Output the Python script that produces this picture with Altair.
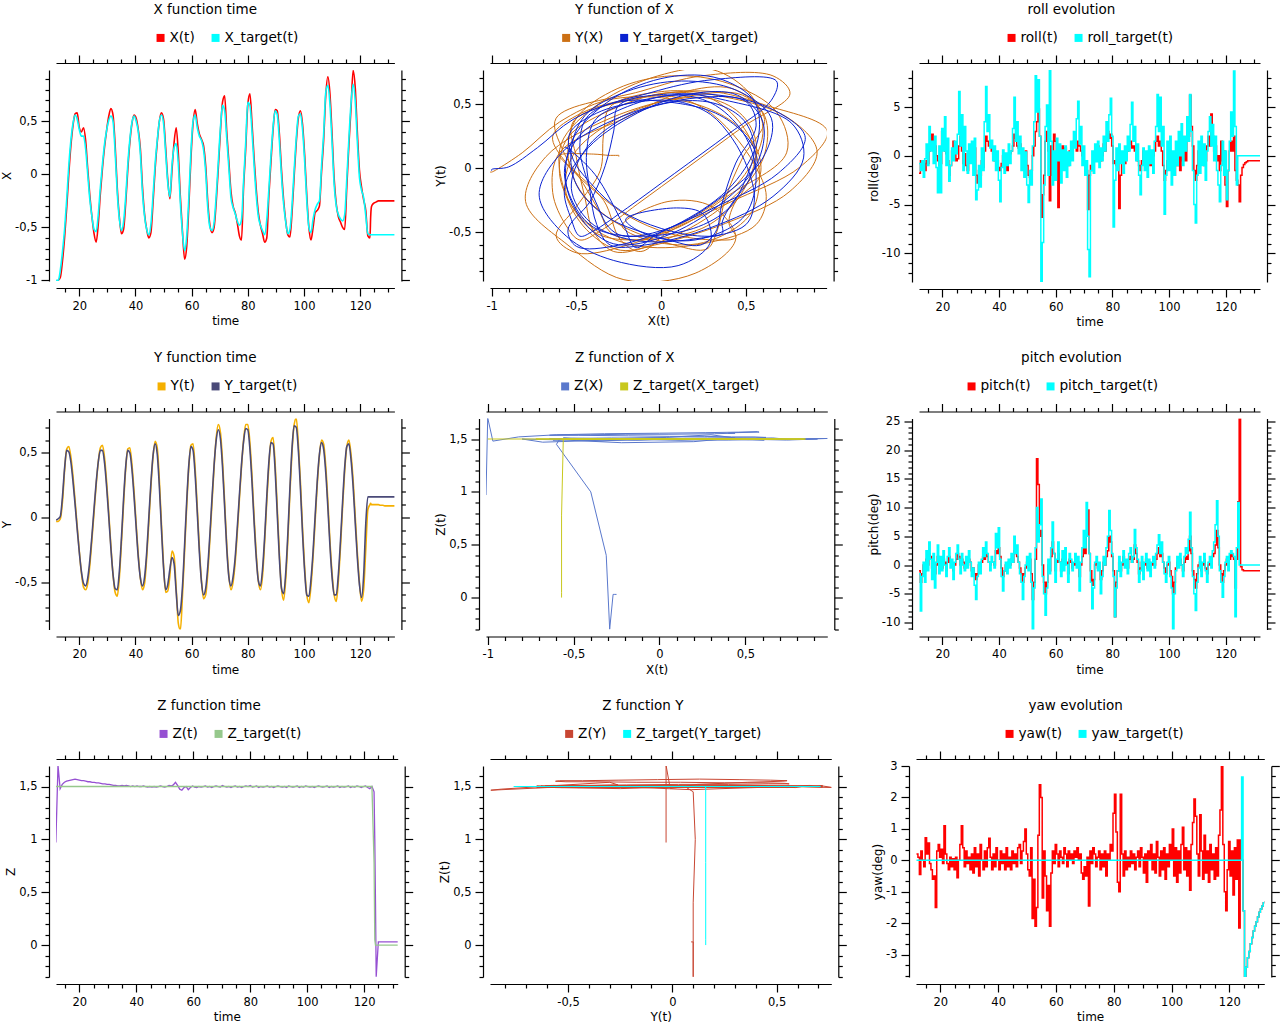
import altair as alt
import pandas as pd

FONT = "DejaVu Sans"

# ---------------- position log (time grid 1) ----------------
T1 = [11.75, 12.5, 13.25, 14.0, 14.75, 15.5, 16.25, 17.0, 17.75, 18.5,
      19.25, 20.0, 20.75, 21.5, 22.25, 23.0, 23.75, 24.5, 25.25, 26.0,
      26.75, 27.5, 28.25, 29.0, 29.75, 30.5, 31.25, 32.0, 32.75, 33.5,
      34.25, 35.0, 35.75, 36.5, 37.25, 38.0, 38.75, 39.5, 40.25, 41.0,
      41.75, 42.5, 43.25, 44.0, 44.75, 45.5, 46.25, 47.0, 47.75, 48.5,
      49.25, 50.0, 50.75, 51.5, 52.25, 53.0, 53.75, 54.5, 55.25, 56.0,
      56.75, 57.5, 58.25, 59.0, 59.75, 60.5, 61.25, 62.0, 62.75, 63.5,
      64.25, 65.0, 65.75, 66.5, 67.25, 68.0, 68.75, 69.5, 70.25, 71.0,
      71.75, 72.5, 73.25, 74.0, 74.75, 75.5, 76.25, 77.0, 77.75, 78.5,
      79.25, 80.0, 80.75, 81.5, 82.25, 83.0, 83.75, 84.5, 85.25, 86.0,
      86.75, 87.5, 88.25, 89.0, 89.75, 90.5, 91.25, 92.0, 92.75, 93.5,
      94.25, 95.0, 95.75, 96.5, 97.25, 98.0, 98.75, 99.5, 100.25, 101.0,
      101.75, 102.5, 103.25, 104.0, 104.75, 105.5, 106.25, 107.0, 107.75, 108.5,
      109.25, 110.0, 110.75, 111.5, 112.25, 113.0, 113.75, 114.5, 115.25, 116.0,
      116.75, 117.5, 118.25, 119.0, 119.75, 120.5, 121.25, 122.0, 122.75, 123.5,
      123.75, 124.0,
      124.25, 125.0, 125.75, 126.5, 127.25, 128.0, 128.75, 129.5, 130.25, 131.0, 131.75, 132.5]

X_ACT = [-1.01, -1.0, -0.97, -0.82, -0.60, -0.32, 0.0, 0.27, 0.46, 0.57,
         0.58, 0.44, 0.40, 0.44, 0.32, 0.05, -0.20, -0.40, -0.56, -0.64,
         -0.47, -0.18, 0.06, 0.26, 0.42, 0.55, 0.62, 0.56, 0.28, -0.12,
         -0.40, -0.56, -0.52, -0.28, 0.04, 0.30, 0.48, 0.56, 0.53, 0.42,
         0.24, -0.12, -0.38, -0.52, -0.60, -0.55, -0.27, 0.05, 0.30, 0.50,
         0.58, 0.52, 0.25, -0.05, -0.23, 0.04, 0.30, 0.44, 0.20, -0.22,
         -0.55, -0.80, -0.68, -0.30, 0.15, 0.48, 0.61, 0.48, 0.38, 0.33,
         0.27, 0.08, -0.26, -0.48, -0.55, -0.50, -0.26, 0.06, 0.40, 0.68,
         0.74, 0.40, 0.12, -0.16, -0.30, -0.36, -0.46, -0.58, -0.62, -0.12,
         0.24, 0.66, 0.76, 0.48, 0.15, -0.14, -0.36, -0.48, -0.56, -0.64,
         -0.60, -0.20, 0.12, 0.42, 0.61, 0.60, 0.38, 0.04, -0.24, -0.44,
         -0.57, -0.59, -0.36, -0.02, 0.30, 0.53, 0.60, 0.47, 0.18, -0.20,
         -0.50, -0.62, -0.50, -0.36, -0.34, -0.30, 0.02, 0.32, 0.74, 0.92,
         0.76, 0.38, -0.04, -0.28, -0.40, -0.45, -0.50, -0.52, -0.12, 0.28,
         0.62, 0.98, 0.82, 0.40, 0.04, -0.12, -0.24, -0.34, -0.58, -0.60,
         -0.40, -0.31,
         -0.29, -0.27, -0.26, -0.25, -0.25, -0.25, -0.25, -0.25, -0.25, -0.25, -0.25, -0.25]

X_TGT = [-1.0, -1.0, -0.90, -0.73, -0.52, -0.24, 0.08, 0.32, 0.48, 0.56,
         0.52, 0.42, 0.36, 0.36, 0.24, 0.0, -0.24, -0.40, -0.52, -0.54,
         -0.38, -0.12, 0.10, 0.29, 0.42, 0.51, 0.55, 0.50, 0.21, -0.17,
         -0.42, -0.53, -0.45, -0.22, 0.09, 0.33, 0.49, 0.55, 0.50, 0.40,
         0.19, -0.18, -0.40, -0.52, -0.57, -0.47, -0.20, 0.10, 0.32, 0.50,
         0.56, 0.48, 0.20, -0.08, -0.21, 0.09, 0.25, 0.29, 0.10, -0.28,
         -0.56, -0.72, -0.58, -0.22, 0.22, 0.50, 0.56, 0.44, 0.36, 0.32,
         0.23, 0.02, -0.32, -0.50, -0.53, -0.45, -0.20, 0.12, 0.44, 0.65,
         0.60, 0.34, 0.06, -0.22, -0.31, -0.37, -0.44, -0.48, -0.43, -0.06,
         0.30, 0.68, 0.65, 0.40, 0.08, -0.20, -0.40, -0.48, -0.53, -0.57,
         -0.43, -0.14, 0.18, 0.45, 0.60, 0.56, 0.31, -0.02, -0.28, -0.45,
         -0.56, -0.52, -0.29, 0.04, 0.34, 0.55, 0.57, 0.42, 0.12, -0.25,
         -0.50, -0.55, -0.42, -0.33, -0.28, -0.25, 0.08, 0.38, 0.77, 0.84,
         0.66, 0.30, -0.10, -0.30, -0.38, -0.42, -0.44, -0.38, -0.04, 0.34,
         0.67, 0.85, 0.69, 0.31, -0.03, -0.15, -0.22, -0.39, -0.56, -0.57,
         -0.57, -0.57,
         -0.57, -0.57, -0.57, -0.57, -0.57, -0.57, -0.57, -0.57, -0.57, -0.57, -0.57, -0.57]

Y_ACT = [-0.03, -0.03, -0.01, 0.12, 0.36, 0.53, 0.55, 0.47, 0.32, 0.13,
         -0.07, -0.26, -0.43, -0.54, -0.56, -0.51, -0.37, -0.17, 0.04, 0.25,
         0.43, 0.54, 0.56, 0.46, 0.27, 0.03, -0.22, -0.44, -0.58, -0.61,
         -0.47, -0.20, 0.10, 0.37, 0.53, 0.54, 0.41, 0.20, -0.05, -0.29,
         -0.47, -0.56, -0.51, -0.31, -0.04, 0.24, 0.47, 0.59, 0.54, 0.29,
         -0.05, -0.37, -0.58, -0.57, -0.45, -0.26, -0.30, -0.55, -0.82, -0.87,
         -0.60, -0.26, 0.09, 0.39, 0.56, 0.57, 0.38, 0.08, -0.23, -0.49,
         -0.63, -0.60, -0.43, -0.17, 0.11, 0.39, 0.62, 0.72, 0.66, 0.44,
         0.12, -0.21, -0.45, -0.56, -0.50, -0.35, -0.12, 0.14, 0.39, 0.60,
         0.72, 0.72, 0.58, 0.32, 0.00, -0.28, -0.49, -0.56, -0.45, -0.19,
         0.12, 0.40, 0.59, 0.62, 0.41, 0.07, -0.28, -0.55, -0.64, -0.48,
         -0.18, 0.19, 0.51, 0.72, 0.77, 0.57, 0.27, -0.09, -0.39, -0.60,
         -0.66, -0.53, -0.30, -0.02, 0.26, 0.48, 0.60, 0.57, 0.40, 0.13,
         -0.18, -0.43, -0.60, -0.65, -0.49, -0.23, 0.08, 0.36, 0.55, 0.60,
         0.49, 0.29, 0.01, -0.27, -0.50, -0.65, -0.56, -0.25, 0.06, 0.10,
         0.11, 0.10,
         0.10, 0.10, 0.10, 0.10, 0.095, 0.095, 0.09, 0.09, 0.09, 0.09, 0.09, 0.09]

Y_TGT = [-0.02, -0.01, 0.01, 0.16, 0.38, 0.52, 0.51, 0.43, 0.28, 0.10,
         -0.09, -0.27, -0.42, -0.51, -0.53, -0.47, -0.33, -0.14, 0.07, 0.27,
         0.43, 0.52, 0.52, 0.42, 0.23, 0.00, -0.24, -0.44, -0.55, -0.56,
         -0.42, -0.16, 0.14, 0.39, 0.52, 0.50, 0.37, 0.16, -0.08, -0.31,
         -0.47, -0.53, -0.46, -0.27, 0.00, 0.27, 0.48, 0.57, 0.49, 0.24,
         -0.09, -0.39, -0.56, -0.52, -0.40, -0.31, -0.36, -0.58, -0.76, -0.72,
         -0.53, -0.21, 0.13, 0.41, 0.55, 0.52, 0.33, 0.04, -0.27, -0.50,
         -0.60, -0.55, -0.38, -0.13, 0.15, 0.41, 0.60, 0.68, 0.61, 0.39,
         0.08, -0.24, -0.46, -0.53, -0.46, -0.31, -0.08, 0.17, 0.41, 0.59,
         0.69, 0.68, 0.53, 0.27, -0.04, -0.31, -0.49, -0.53, -0.40, -0.15,
         0.16, 0.43, 0.58, 0.57, 0.36, 0.02, -0.32, -0.55, -0.59, -0.43,
         -0.13, 0.23, 0.54, 0.71, 0.70, 0.52, 0.22, -0.13, -0.42, -0.60,
         -0.61, -0.48, -0.26, 0.02, 0.29, 0.49, 0.58, 0.53, 0.35, 0.08,
         -0.22, -0.46, -0.60, -0.60, -0.44, -0.18, 0.12, 0.39, 0.55, 0.57,
         0.45, 0.24, -0.04, -0.31, -0.52, -0.62, -0.45, -0.05, 0.16, 0.16,
         0.16, 0.16,
         0.16, 0.16, 0.16, 0.16, 0.16, 0.16, 0.16, 0.16, 0.16, 0.16, 0.16, 0.16]

Z_ACT = [0.97, 1.70, 1.48, 1.52, 1.54, 1.55, 1.555, 1.56, 1.565, 1.57,
         1.565, 1.56, 1.555, 1.555, 1.55, 1.545, 1.545, 1.54, 1.54, 1.535,
         1.535, 1.53, 1.525, 1.525, 1.52, 1.52, 1.515, 1.51, 1.51, 1.505,
         1.505, 1.51, 1.505, 1.51, 1.505, 1.5, 1.505, 1.5, 1.505, 1.5,
         1.5, 1.505, 1.5, 1.495, 1.5, 1.495, 1.5, 1.495, 1.5, 1.505,
         1.5, 1.495, 1.5, 1.51, 1.505, 1.515, 1.54, 1.51, 1.475, 1.465,
         1.49, 1.5, 1.47, 1.49, 1.505, 1.495, 1.49, 1.5, 1.495, 1.5,
         1.505, 1.495, 1.5, 1.49, 1.5, 1.505, 1.5, 1.495, 1.51, 1.5,
         1.495, 1.5, 1.49, 1.5, 1.505, 1.495, 1.5, 1.49, 1.5, 1.505,
         1.5, 1.51, 1.495, 1.5, 1.505, 1.49, 1.5, 1.495, 1.5, 1.505,
         1.495, 1.5, 1.49, 1.5, 1.505, 1.5, 1.495, 1.5, 1.49, 1.505,
         1.5, 1.495, 1.5, 1.505, 1.49, 1.5, 1.495, 1.505, 1.5, 1.495,
         1.5, 1.49, 1.5, 1.505, 1.5, 1.495, 1.5, 1.505, 1.49, 1.5,
         1.495, 1.5, 1.505, 1.49, 1.5, 1.495, 1.5, 1.505, 1.49, 1.5,
         1.495, 1.505, 1.5, 1.49, 1.5, 1.505, 1.49, 1.48, 1.5, 1.45,
         1.0, 0.40,
         -0.30, 0.03, 0.03, 0.03, 0.03, 0.03, 0.03, 0.03, 0.03, 0.03, 0.03, 0.03]

Z_TGT = [1.5] * 149 + [0.78] + [0.05, 0.0] + [0.0] * 12

# ---------------- attitude log (time grid 2) ----------------
T2 = [11.75, 12.25, 12.75, 13.25, 13.75, 14.25, 14.75, 15.25, 15.75, 16.25,
      16.75, 17.25, 17.75, 18.25, 18.75, 19.25, 19.75, 20.25, 20.75, 21.25,
      21.75, 22.25, 22.75, 23.25, 23.75, 24.25, 24.75, 25.25, 25.75, 26.25,
      26.75, 27.25, 27.75, 28.25, 28.75, 29.25, 29.75, 30.25, 30.75, 31.25,
      31.75, 32.25, 32.75, 33.25, 33.75, 34.25, 34.75, 35.25, 35.75, 36.25,
      36.75, 37.25, 37.75, 38.25, 38.75, 39.25, 39.75, 40.25, 40.75, 41.25,
      41.75, 42.25, 42.75, 43.25, 43.75, 44.25, 44.75, 45.25, 45.75, 46.25,
      46.75, 47.25, 47.75, 48.25, 48.75, 49.25, 49.75, 50.25, 50.75, 51.25,
      51.75, 52.25, 52.75, 53.25, 53.75, 54.25, 54.75, 55.25, 55.75, 56.25,
      56.75, 57.25, 57.75, 58.25, 58.75, 59.25, 59.75, 60.25, 60.75, 61.25,
      61.75, 62.25, 62.75, 63.25, 63.75, 64.25, 64.75, 65.25, 65.75, 66.25,
      66.75, 67.25, 67.75, 68.25, 68.75, 69.25, 69.75, 70.25, 70.75, 71.25,
      71.75, 72.25, 72.75, 73.25, 73.75, 74.25, 74.75, 75.25, 75.75, 76.25,
      76.75, 77.25, 77.75, 78.25, 78.75, 79.25, 79.75, 80.25, 80.75, 81.25,
      81.75, 82.25, 82.75, 83.25, 83.75, 84.25, 84.75, 85.25, 85.75, 86.25,
      86.75, 87.25, 87.75, 88.25, 88.75, 89.25, 89.75, 90.25, 90.75, 91.25,
      91.75, 92.25, 92.75, 93.25, 93.75, 94.25, 94.75, 95.25, 95.75, 96.25,
      96.75, 97.25, 97.75, 98.25, 98.75, 99.25, 99.75, 100.25, 100.75, 101.25,
      101.75, 102.25, 102.75, 103.25, 103.75, 104.25, 104.75, 105.25, 105.75, 106.25,
      106.75, 107.25, 107.75, 108.25, 108.75, 109.25, 109.75, 110.25, 110.75, 111.25,
      111.75, 112.25, 112.75, 113.25, 113.75, 114.25, 114.75, 115.25, 115.75, 116.25,
      116.75, 117.25, 117.75, 118.25, 118.75, 119.25, 119.75, 120.25, 120.75, 121.25,
      121.75, 122.25, 122.75, 123.25, 123.75, 124.25, 124.75, 125.25, 125.75, 126.25,
      126.75, 127.25, 127.75, 128.25, 128.75, 129.25, 129.75, 130.25, 130.75, 131.25,
      131.75, 132.25]

ROLL_T = [-0.8, -1.5, -0.5, -2.2, -0.3, 1.2, -1.0, 3.0, 0.5, 1.5,
          -0.8, 2.0, -1.2, -3.8, 1.0, -3.8, 2.8, 0.5, 4.0, -1.0,
          1.8, -2.6, -1.0, 0.8, -0.5, 1.5, 0.2, 2.2, 6.6, 1.0,
          4.2, -1.5, 3.0, 0.5, -1.8, 1.2, -0.8, 1.5, -2.0, 1.8,
          -4.5, -3.5, -1.0, -3.2, 0.8, -1.5, 3.5, 7.1, 2.5, 4.2,
          0.8, 1.6, -0.5, 1.0, -1.5, 0.5, -2.5, -4.7, -1.2, 0.6,
          -1.8, 0.3, -1.0, 1.2, -0.8, 0.5, 2.8, 6.0, 1.5, 3.5,
          0.2, 2.0, -1.5, 0.8, -2.2, 0.4, -3.0, -4.8, -1.5, -3.0,
          1.0, 3.5, 8.2, 4.5, 7.8, 2.0, -12.9, -8.9, -3.0, 3.0,
          5.2, -2.0, 8.8, 1.5, -3.0, 0.5, -2.5, 1.8, -0.5, 1.2,
          -2.8, 0.6, -1.5, 1.0, -2.2, 0.4, -1.0, 1.5, -0.5, 2.5,
          0.8, 3.8, 5.6, 1.2, 3.0, -1.0, 1.0, -2.0, -0.5, -9.6,
          -12.4, -1.5, 0.5, -1.8, 1.2, -0.6, 1.5, -1.2, 0.8, -0.5,
          2.0, 0.5, 3.5, 1.5, 4.2, 5.9, 2.0, -7.3, -2.5, 0.8,
          -1.5, 1.2, -0.8, 0.5, -1.8, 1.0, -0.5, 2.0, 0.5, 3.2,
          5.5, 1.5, 3.0, -0.5, 1.2, -2.0, -4.0, -1.0, 0.8, -1.5,
          0.5, -2.2, 1.0, -0.8, 0.6, -1.8, 1.5, 3.0, 6.3, 2.5,
          6.0, 1.0, 3.0, -6.0, -2.0, 1.5, -1.5, 2.0, -3.0, 0.5,
          -2.0, 1.5, -1.0, 2.5, 0.0, 3.3, -1.0, 2.0, 0.5, 4.0,
          1.5, 6.3, 2.5, -1.5, -5.0, -6.9, -2.0, 1.5, -1.8, 2.0,
          -1.0, 1.2, -2.5, 0.5, 2.5, 4.0, 1.0, 3.2, -0.5, 2.0,
          -1.5, -3.0, -4.7, -1.0, 1.5, -2.0, 0.5, -4.5, -1.5, 1.5,
          4.5, 2.0, 8.7, 3.0, -3.0, 0.0, 0.0, 0.0, 0.0, 0.0,
          0.0, 0.0, 0.0, 0.0, 0.0, 0.0, 0.0, 0.0, 0.0, 0.0,
          0.0, 0.0]

ROLL = [-1.8, -0.5, -1.2, -0.8, -1.5, -0.5, -0.8, 0.5, 1.2, 2.2,
        0.5, 1.0, 0.0, -0.5, -1.0, -0.8, 2.5, 1.0, 0.5, 0.2,
        -0.5, -2.0, -1.0, 0.5, 1.5, 0.8, -0.5, -0.3, 1.0, 2.0,
        0.5, -0.8, 0.2, -1.0, -1.5, 0.5, 0.8, 0.2, -0.5, 0.8,
        -2.0, -2.8, -1.5, -2.0, -0.5, -1.2, 0.5, 2.0, 1.5, 1.0,
        1.0, 0.5, 0.2, -0.5, 0.0, -0.5, -1.2, -1.5, -0.8, 0.0,
        -0.5, -1.0, -1.5, -0.5, 0.2, 0.5, 1.0, 2.2, 1.8, 1.0,
        0.8, 1.2, 0.5, 0.0, -1.0, 0.5, -1.0, -2.0, -2.2, -1.5,
        0.0, 1.0, 2.5, 3.5, 4.8, 2.0, -6.3, -4.0, -2.0, 1.5,
        2.5, 0.5, -4.6, 1.0, -2.0, 2.2, 1.5, 0.5, -5.3, 0.5,
        -1.0, 1.0, 0.0, 0.8, -0.5, -1.0, 0.5, 0.0, 1.0, 1.5,
        1.0, 0.5, 1.5, 1.0, 0.5, 0.0, -0.5, -1.0, -1.5, -5.5,
        -2.0, -1.0, -1.5, -0.5, 0.5, 0.0, 1.0, 0.5, -0.5, 0.0,
        1.2, 0.5, 1.5, 2.5, 1.8, 2.2, 1.0, -0.8, -0.5, -1.0,
        -0.2, -5.4, -2.0, -0.5, 0.0, -0.8, -0.3, 0.5, 1.2, 1.5,
        0.8, 1.0, 0.5, 0.0, -0.5, -1.0, -1.5, -0.5, 0.5, -0.5,
        -1.0, -0.2, 0.5, -1.0, -0.5, 0.0, 0.5, 1.5, 2.0, 1.0,
        1.5, 0.5, -1.0, -2.5, -1.5, -0.5, 0.5, 0.0, -1.2, -1.5,
        -2.0, 0.0, -1.0, 0.5, -1.5, 1.0, -0.5, 0.5, -0.5, 1.5,
        2.0, 6.2, 3.0, 1.0, -1.5, -2.5, -1.0, 0.5, 1.0, -0.5,
        0.5, -1.0, -0.5, 1.0, 2.0, 1.0, 4.3, 2.0, 0.5, 1.0,
        -0.5, 0.0, -1.5, 1.5, -0.5, 0.5, -3.0, -5.2, -1.5, 0.5,
        1.5, 0.5, 2.0, -1.5, -2.5, -3.0, -4.7, -2.0, -1.2, -0.9,
        -0.7, -0.6, -0.5, -0.5, -0.5, -0.5, -0.5, -0.5, -0.5, -0.5,
        -0.5, -0.5]

PITCH_T = [-1.5, -8.0, -2.0, 0.5, -3.0, 2.5, -1.0,
           4.0, 1.0, -2.5, 2.0, -4.0, 0.5, 3.5, -1.5, 1.5, -1.0,
           2.5, 0.0, -2.0, 1.5, 3.0, -0.5, 1.0, -2.5, 0.5, 2.0,
           3.5, 1.0, -1.5, 2.0, 0.0, -1.0, 1.5, -0.5, 2.5, 0.5,
           -2.0, -0.5, -3.5, -6.0, -2.0, 0.5, -1.5, 1.0, 3.0, 1.5,
           4.0, 2.0, 0.5, -1.0, 1.5, 0.5, -0.5, 5.5, 3.0, 6.5,
           1.0, -2.0, -4.5, -1.0, 0.5, -1.5, 1.0, -0.5, 2.0, 0.5,
           5.0, 2.0, 3.5, 0.5, -1.5, -3.0, -6.0, -2.0, 0.0, 1.5,
           -1.0, 2.0, -3.0, -11.5, -4.0, 3.0, 10.0, 4.0, 7.0, 11.5,
           -2.0, -5.0, -8.7, -4.0, 1.0, -1.5, 3.0, 7.5, 2.0, -3.0,
           1.0, 4.0, 0.5, -2.0, 2.5, -1.0, 3.0, 0.0, -3.0, 2.0,
           1.0, -1.0, 0.5, 2.0, -0.5, 1.5, -4.5, 0.5, 3.0, 6.0,
           3.0, 10.9, 5.0, 2.0, -3.0, -7.6, -4.0, 0.5, 1.5, -1.0,
           0.5, -5.0, -2.0, 1.5, 0.0, 3.0, 5.0, 9.5, 6.0, 2.0,
           -2.0, -9.0, -4.0, -1.0, 1.5, -2.0, 0.5, 2.5, -0.5, 1.0,
           -1.5, 2.0, 3.0, 0.5, 1.5, 6.2, 3.0, 1.0, -3.0, -1.0,
           1.5, -2.5, 0.5, 2.0, -1.0, 1.0, -2.0, 0.5, 1.5, -0.5,
           2.0, 3.5, 5.3, 2.0, 4.0, 0.5, -1.5, -3.0, 0.5, 1.5,
           -2.0, -4.0, -11.2, -5.0, -1.0, 1.5, -0.5, 2.0, 0.0, -2.0,
           1.5, 3.0, 2.0, 4.5, 9.2, 3.0, -2.0, -5.0, -7.9, -3.0,
           -0.5, 1.5, -2.0, 0.5, 2.0, -1.0, -3.0, 0.5, 1.5, -0.5,
           2.5, 4.0, 7.0, 11.2, 5.0, -1.0, -3.0, -5.6, -2.0, 0.5,
           1.5, -1.0, 2.0, 2.5, 2.0, 1.5, -9.0, 3.0, 10.9, 0.0,
           0.0, 0.0, 0.0, 0.0, 0.0, 0.0, 0.0, 0.0, 0.0, 0.0,
           0.0, 0.0, 0.0, 0.0, 0.0]

PITCH = [-1.0, -3.0, -1.5, 0.0, -1.0, 1.0, 0.0,
         2.0, 1.5, -0.5, 0.5, -1.5, 0.0, 1.5, 0.0, 0.5, -0.5,
         1.0, 0.5, -1.0, 0.5, 1.5, 0.5, 0.0, -1.0, 0.0, 1.0,
         2.0, 1.5, 0.0, 1.0, 0.5, -0.5, 0.5, 0.0, 1.0, 0.5,
         -1.0, -0.5, -1.5, -2.5, -1.5, 0.0, -0.5, 0.5, 1.5, 1.0,
         2.0, 1.5, 0.5, 0.0, 0.5, 0.5, 0.0, 2.5, 2.0, 3.0,
         1.5, -0.5, -2.0, -1.0, 0.0, -0.5, 0.5, 0.0, 1.0, 0.5,
         2.5, 2.0, 1.5, 0.5, -0.5, -1.5, -3.0, -1.5, -0.5, 0.5,
         0.0, 1.0, -1.5, -6.0, -3.0, 1.0, 18.5, 14.0, 5.0, 6.0,
         0.0, -3.0, -5.0, -3.0, 0.0, -1.0, 1.5, 4.0, 2.0, -1.0,
         0.5, 2.0, 0.5, -1.0, 1.0, 0.0, 1.5, 0.5, -1.5, 1.0,
         0.5, -0.5, 0.0, 1.0, 0.0, 0.5, -2.0, 0.0, 1.5, 3.0,
         2.0, 5.0, 9.6, 2.0, -1.0, -3.5, -2.5, 0.0, 0.5, -0.5,
         0.0, -2.5, -1.0, 0.5, 0.0, 1.5, 2.5, 5.0, 4.0, 1.5,
         -1.0, -9.0, -3.0, -1.0, 0.5, -1.0, 0.0, 1.5, 0.0, 0.5,
         -0.5, 1.0, 1.5, 0.5, 1.0, 3.5, 2.0, 0.5, -1.5, -0.5,
         0.5, -1.0, 0.0, 1.0, -0.5, 0.5, -1.0, 0.0, 0.5, 0.0,
         1.0, 2.0, 3.0, 1.5, 2.0, 0.5, -0.5, -1.5, 0.0, 0.5,
         -1.0, -2.0, -5.0, -3.0, -0.5, 0.5, 0.0, 1.0, 0.0, -1.0,
         0.5, 1.5, 1.0, 2.5, 5.0, 2.0, -1.0, -2.5, -4.0, -1.5,
         0.0, 0.5, -1.0, 0.0, 1.0, -0.5, -1.5, 0.0, 0.5, 0.0,
         1.5, 2.0, 3.5, 6.0, 3.0, 0.0, -1.5, -3.0, -1.0, 0.0,
         1.0, 0.0, 1.0, 2.0, 1.5, 1.0, -4.0, 1.0, 11.0, 25.4,
         -0.3, -0.8, -1.0, -1.0, -1.0, -1.0, -1.0, -1.0, -1.0, -1.0,
         -1.0, -1.0, -1.0, -1.0, -1.0]

YAW_TAIL = [2.65, -1.6, -3.7, -3.4, -3.1, -2.9, -2.65, -2.45, -2.25, -2.1,
            -1.95, -1.8, -1.65, -1.55, -1.45, -1.35, -1.3]
YAW_T = [0.0] * 225 + YAW_TAIL

YAW = [0.2, 0.1, -0.45, 0.3, 0.0, -0.2, 0.72, 0.2, 0.55, -0.1,
       -0.3, -0.6, -0.5, -1.5, 0.3, 0.5, 0.1, 0.35, -0.1, 1.1,
       0.2, -0.1, -0.3, 0.1, -0.2, 0.05, -0.3, 0.1, -0.55, 0.0,
       0.5, 1.1, 0.4, -0.2, 0.3, -0.1, 0.1, -0.3, 0.2, -0.4,
       0.4, -0.2, 0.2, -0.5, 0.5, 0.0, -0.3, 0.3, -0.2, 0.4,
       0.7, 0.1, -0.3, 0.2, -0.2, 0.4, 0.0, -0.3, 0.3, -0.1,
       0.2, -0.3, 0.4, -0.2, 0.1, -0.3, 0.3, -0.1, 0.2, -0.2,
       0.4, 0.5, -0.1, 0.3, 0.6, 1.0, 0.2, -0.3, -0.5, 0.4,
       -1.85, -0.6, -2.1, -1.5, 0.8, 2.4, 2.0, -1.2, 0.3, -0.5,
       -1.6, -0.8, -2.1, -0.4, 0.3, -0.1, 0.5, 0.2, -0.2, 0.3,
       0.1, -0.1, 0.4, 0.2, -0.2, 0.3, 0.0, 0.2, -0.1, 0.3,
       0.1, 0.4, 0.0, 0.2, -0.4, -0.6, -0.2, -0.5, 0.1, -1.45,
       0.3, -0.1, 0.4, 0.2, -0.2, 0.1, 0.3, -0.3, 0.2, -0.2,
       0.3, -0.5, 0.2, 0.0, 0.5, 0.3, 1.5, 2.1, 0.9, -0.7,
       -1.0, 2.1, 0.2, -0.5, 0.3, -0.3, 0.1, -0.2, 0.3, -0.1,
       0.2, -0.3, 0.1, 0.3, -0.2, 0.4, 0.1, -0.4, 0.2, -0.7,
       0.3, 0.0, 0.5, -0.3, 0.2, -0.4, 0.6, 0.1, -0.5, 0.3,
       -0.3, 0.4, -0.6, 0.2, -0.2, 0.5, 0.0, 1.0, -0.5, 0.4,
       -0.7, 0.3, -0.4, 0.5, 1.05, -0.3, 0.4, -0.5, 0.3, -0.95,
       0.5, 1.2, 1.95, 1.4, 0.2, -0.5, 1.45, 0.3, -0.6, 0.8,
       -0.4, 0.3, -0.7, 0.5, -0.3, 0.2, -0.6, 0.4, -0.5, 0.8,
       1.6, 3.0, 0.5, -1.0, -1.6, -0.3, 0.6, -0.5, 0.3, -1.1,
       0.4, -0.6, 0.65, -2.15, 0.65, 0.0] + YAW_TAIL[1:]


def frame(xa, ya, xt, yt, names):
    for arr in (ya, xt, yt):
        if len(arr) != len(xa):
            raise ValueError(f"length mismatch for {names}: {len(xa)} vs {len(arr)}")
    rows = []
    for i in range(len(xa)):
        rows.append({"i": i, "x": xa[i], "y": ya[i], "s": names[0]})
    for i in range(len(xt)):
        rows.append({"i": i, "x": xt[i], "y": yt[i], "s": names[1]})
    return pd.DataFrame(rows)


def tick_values(lo, hi, step):
    out = []
    k = int(lo / step) - 2
    while k * step <= hi + 1e-9:
        v = round(k * step, 6)
        if lo - 1e-9 <= v <= hi + 1e-9:
            out.append(v)
        k += 1
    return out


def major_test(M):
    return f"abs(datum.value / {M} - round(datum.value / {M})) < 0.000001"


def mk_axis(orient, vals, M, title=None, labels=True, tpad=1):
    test = major_test(M)
    kw = dict(orient=orient, values=vals, offset=7, grid=False,
              domainColor="black", domainWidth=1.2, tickColor="black", tickWidth=1.2,
              tickSize={"condition": {"test": test, "value": 8}, "value": 4},
              minExtent=0, labelOverlap=False, labelFlush=False)
    if labels:
        kw.update(labels=True,
                  labelExpr=f"({test}) ? replace(replace(format(datum.value, '~g'), '.', ','), '\u2212', '-') : ''",
                  labelFont=FONT, labelFontSize=11.5, labelColor="black",
                  labelPadding=4)
    else:
        kw.update(labels=False)
    if title:
        kw.update(title=title, titleFont=FONT, titleFontSize=12, titleFontWeight="normal",
                  titleColor="black", titlePadding=tpad)
    else:
        kw.update(title=None)
    return alt.Axis(**kw)


def mk_legend(lx):
    return alt.Legend(orient="none", legendX=lx, legendY=-39, direction="horizontal", title=None,
                      symbolType="square", symbolSize=4, symbolStrokeWidth=6, symbolOpacity=1,
                      labelFont=FONT, labelFontSize=13.7, labelColor="black", labelOffset=2,
                      columnPadding=6)


def panel(df, names, colors, xdom, ydom, xvals, xM, yvals, yM, xtitle, ytitle,
          title, tdx, lx, w, h, interp, sw):
    sx = alt.Scale(domain=xdom, nice=False, zero=False)
    sy = alt.Scale(domain=ydom, nice=False, zero=False)
    col = alt.Color("s:N", scale=alt.Scale(domain=names, range=colors), legend=mk_legend(lx))
    base = alt.Chart(df)
    l1 = base.transform_filter(alt.datum.s == names[0]).mark_line(
        interpolate=interp, strokeWidth=sw, clip=True).encode(
        x=alt.X("x:Q", scale=sx, axis=mk_axis("bottom", xvals, xM, xtitle, tpad=4)),
        y=alt.Y("y:Q", scale=sy, axis=mk_axis("left", yvals, yM, ytitle, tpad=1)),
        color=col, order=alt.Order("i:Q"))
    l2 = base.transform_filter(alt.datum.s == names[1]).mark_line(
        interpolate=interp, strokeWidth=sw, clip=True).encode(
        x=alt.X("x:Q", scale=sx, axis=mk_axis("top", xvals, xM, None, labels=False)),
        y=alt.Y("y:Q", scale=sy, axis=mk_axis("right", yvals, yM, None, labels=False)),
        color=col, order=alt.Order("i:Q"))
    t = alt.Title(title, anchor="middle", frame="bounds", dx=tdx, fontSize=13.5,
                  fontWeight="normal", font=FONT, color="black", offset=15)
    return alt.layer(l1, l2).resolve_axis(x="independent", y="independent").properties(
        width=w, height=h, title=t)


# ---------------- panels ----------------
tx1 = tick_values(11.7, 132.2, 5)

p1 = panel(frame(T1, X_ACT, T1, X_TGT, ["X(t)", "X_target(t)"]), ["X(t)", "X_target(t)"],
           ["#ff0000", "#00ffff"], [11.7, 132.2], [-1.006, 0.984],
           tx1, 20, tick_values(-1.006, 0.984, 0.1), 0.5, "time", "X",
           "X function time", 0, 97.7, 338.4, 211, "monotone", 1.6)

p2 = panel(frame(X_ACT, Y_ACT, X_TGT, Y_TGT, ["Y(X)", "Y_target(X_target)"]),
           ["Y(X)", "Y_target(X_target)"], ["#cc7014", "#0a22d0"],
           [-1.01, 0.976], [-0.88, 0.766],
           tick_values(-1.01, 0.976, 0.1), 0.5, tick_values(-0.88, 0.766, 0.1), 0.5,
           "X(t)", "Y(t)", "Y function of X", -14, 69.3, 336.6, 211, "catmull-rom", 1.0)

p3 = panel(frame(T2, ROLL, T2, ROLL_T, ["roll(t)", "roll_target(t)"]),
           ["roll(t)", "roll_target(t)"], ["#ff0000", "#00ffff"],
           [11.75, 132.1], [-12.94, 8.8],
           tick_values(11.75, 132.1, 5), 20, tick_values(-12.94, 8.8, 1), 5,
           "time", "roll(deg)", "roll evolution", 0, 85.7, 341, 212, "step-after", 1.5)

p4 = panel(frame(T1, Y_ACT, T1, Y_TGT, ["Y(t)", "Y_target(t)"]), ["Y(t)", "Y_target(t)"],
           ["#f5b000", "#4a4a78"], [11.7, 132.2], [-0.868, 0.767],
           tx1, 20, tick_values(-0.868, 0.767, 0.1), 0.5, "time", "Y",
           "Y function time", 0, 98.7, 338.4, 211, "monotone", 1.6)

p5 = panel(frame(X_ACT, Z_ACT, X_TGT, Z_TGT, ["Z(X)", "Z_target(X_target)"]),
           ["Z(X)", "Z_target(X_target)"], ["#5a78cc", "#c8c81e"],
           [-1.01, 0.977], [-0.302, 1.694],
           tick_values(-1.01, 0.977, 0.1), 0.5, tick_values(-0.302, 1.694, 0.1), 0.5,
           "X(t)", "Z(t)", "Z function of X", -14, 72.3, 341.3, 211, "linear", 1.0)

p6 = panel(frame(T2, PITCH, T2, PITCH_T, ["pitch(t)", "pitch_target(t)"]),
           ["pitch(t)", "pitch_target(t)"], ["#ff0000", "#00ffff"],
           [11.8, 132.1], [-11.2, 25.5],
           tick_values(11.8, 132.1, 5), 20, tick_values(-11.2, 25.5, 1), 5,
           "time", "pitch(deg)", "pitch evolution", 0, 45.7, 341, 211, "step-after", 1.5)

p7 = panel(frame(T1, Z_ACT, T1, Z_TGT, ["Z(t)", "Z_target(t)"]), ["Z(t)", "Z_target(t)"],
           ["#9650d2", "#96c88c"], [11.8, 131.8], [-0.302, 1.694],
           tick_values(11.8, 131.8, 5), 20, tick_values(-0.302, 1.694, 0.1), 0.5, "time", "Z",
           "Z function time", 0, 100.7, 341.7, 211, "linear", 1.3)

p8 = panel(frame(Y_ACT, Z_ACT, Y_TGT, Z_TGT, ["Z(Y)", "Z_target(Y_target)"]),
           ["Z(Y)", "Z_target(Y_target)"], ["#c84632", "#00ffff"],
           [-0.874, 0.762], [-0.302, 1.694],
           tick_values(-0.874, 0.762, 0.1), 0.5, tick_values(-0.302, 1.694, 0.1), 0.5,
           "Y(t)", "Z(t)", "Z function Y", 0, 72.3, 341.3, 211, "linear", 1.0)

p9 = panel(frame(T2, YAW, T2, YAW_T, ["yaw(t)", "yaw_target(t)"]),
           ["yaw(t)", "yaw_target(t)"], ["#ff0000", "#00ffff"],
           [11.58, 132.1], [-3.71, 3.0],
           tick_values(11.58, 132.1, 5), 20, tick_values(-3.71, 3.0, 1.0 / 3.0), 1,
           "time", "yaw(deg)", "yaw evolution", 0, 86.7, 348.3, 211, "step-after", 1.5)


def row(*ps):
    return alt.hconcat(*ps, spacing=24).resolve_scale(
        x="independent", y="independent", color="independent").resolve_legend(color="independent")


chart = alt.vconcat(row(p1, p2, p3), row(p4, p5, p6), row(p7, p8, p9), spacing=22.5).resolve_scale(
    x="independent", y="independent", color="independent").resolve_legend(
    color="independent").properties(
    padding={"left": 0, "top": 2, "right": 0, "bottom": 0}).configure(
    font=FONT).configure_view(stroke=None)

chart.save("out.html", embed_options={"renderer": "svg", "actions": False})
